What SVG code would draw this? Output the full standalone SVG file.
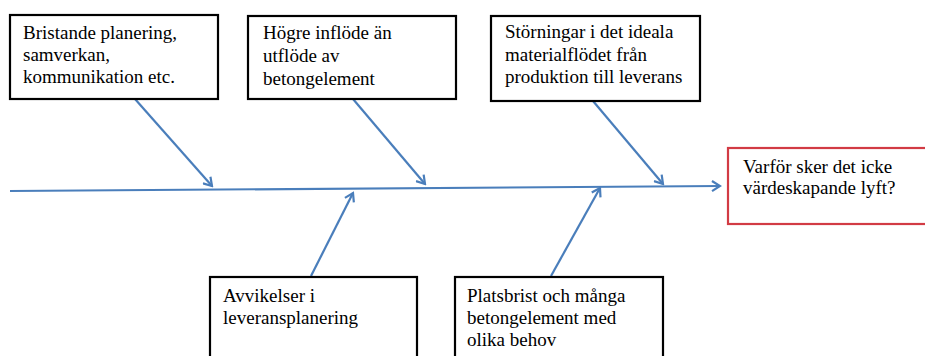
<svg xmlns="http://www.w3.org/2000/svg" width="925" height="356" viewBox="0 0 925 356">
<defs>
<style>
.box{fill:#fff;stroke:#000;stroke-width:2.2}
.red{fill:#fff;stroke:#d23b44;stroke-width:2.2}
.t{font-family:"Liberation Serif","Times New Roman",serif;font-size:19px;fill:#000}
.c{stroke:#4a7ebb;stroke-width:2.2;fill:none}
</style>
<marker id="ah" viewBox="0 0 12 12" refX="10" refY="6" markerWidth="12" markerHeight="12" markerUnits="userSpaceOnUse" orient="auto">
<path d="M2,1 L10,6 L2,11" fill="none" stroke="#4a7ebb" stroke-width="2.2" stroke-linejoin="miter"/>
</marker>
</defs>
<rect width="925" height="356" fill="#fff"/>
<g id="connectors">
<line class="c" x1="10" y1="191" x2="720" y2="186" marker-end="url(#ah)"/>
<line class="c" x1="135" y1="99" x2="212" y2="186" marker-end="url(#ah)"/>
<line class="c" x1="353" y1="99" x2="425" y2="184" marker-end="url(#ah)"/>
<line class="c" x1="593" y1="101" x2="663" y2="184" marker-end="url(#ah)"/>
<line class="c" x1="311" y1="276" x2="353" y2="193" marker-end="url(#ah)"/>
<line class="c" x1="551" y1="276" x2="600" y2="188" marker-end="url(#ah)"/>
</g>
<g id="node1">
<rect class="box" x="10" y="15" width="208" height="84"/>
<text class="t" x="23" y="39">Bristande planering,</text>
<text class="t" x="23" y="61">samverkan,</text>
<text class="t" x="23" y="83">kommunikation etc.</text>
</g>
<g id="node2">
<rect class="box" x="248" y="16" width="208" height="83"/>
<text class="t" x="263" y="39">Högre inflöde än</text>
<text class="t" x="263" y="62">utflöde av</text>
<text class="t" x="263" y="85">betongelement</text>
</g>
<g id="node3">
<rect class="box" x="491" y="16" width="209" height="85"/>
<text class="t" x="505" y="38">Störningar i det ideala</text>
<text class="t" x="505" y="61">materialflödet från</text>
<text class="t" x="505" y="83">produktion till leverans</text>
</g>
<g id="effect">
<rect class="red" x="728" y="148" width="210" height="76"/>
<text class="t" x="743" y="173">Varför sker det icke</text>
<text class="t" x="743" y="194">värdeskapande lyft?</text>
</g>
<g id="node4">
<rect class="box" x="210" y="277" width="207" height="90"/>
<text class="t" x="223" y="302">Avvikelser i</text>
<text class="t" x="223" y="324">leveransplanering</text>
</g>
<g id="node5">
<rect class="box" x="455" y="277" width="208" height="90"/>
<text class="t" x="467" y="302">Platsbrist och många</text>
<text class="t" x="467" y="324">betongelement med</text>
<text class="t" x="467" y="346">olika behov</text>
</g>
</svg>
